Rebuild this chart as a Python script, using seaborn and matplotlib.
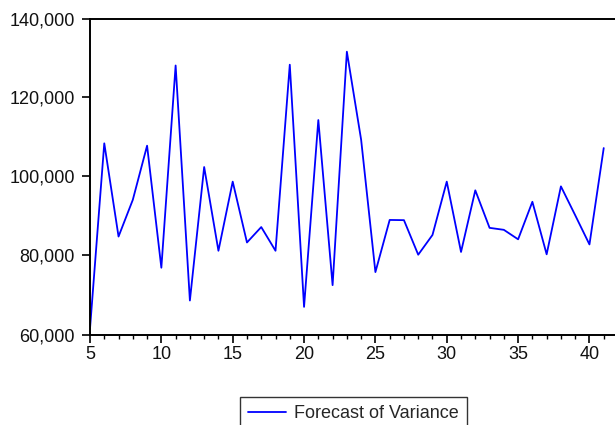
import matplotlib
matplotlib.use("Agg")
import matplotlib.pyplot as plt
from matplotlib.ticker import MultipleLocator, FuncFormatter
import seaborn as sns
import pandas as pd

# Forecast horizon (periods) and forecast of the variance
periods = list(range(5, 42))
variance = [
    61500, 108400, 84800, 94100, 107800, 76900, 128100, 68600, 102400, 81200,
    98700, 83300, 87200, 81200, 128300, 67000, 114300, 72500, 131600, 109300,
    75800, 89000, 88950, 80200, 85200, 98700, 80900, 96500, 87000, 86500,
    84100, 93600, 80300, 97500, 90200, 82800, 107200,
]
series_name = "Forecast of Variance"
y_ticks = [60000, 80000, 100000, 120000, 140000]

df = pd.DataFrame({"period": periods, "value": variance, "series": series_name})

sns.set_theme(style="white")
plt.rcParams["font.family"] = ["Liberation Sans", "DejaVu Sans"]

fig = plt.figure(figsize=(6.15, 4.25), dpi=100)
ax = fig.add_axes([90 / 615, 90.5 / 425, 528 / 615, 316 / 425])

sns.lineplot(data=df, x="period", y="value", hue="series",
             palette={series_name: "#0000ff"}, linewidth=1.3, ax=ax)

ax.set_xlim(5, 42)
ax.set_ylim(60000, 140000)
ax.set_yticks(y_ticks)
ax.yaxis.set_major_formatter(FuncFormatter(lambda v, p: f"{int(v):,}"))
ax.xaxis.set_major_locator(MultipleLocator(5))
ax.xaxis.set_minor_locator(MultipleLocator(1))
ax.set_xlabel("")
ax.set_ylabel("")

for side in ["left", "bottom", "top"]:
    ax.spines[side].set_visible(True)
    ax.spines[side].set_color("black")
    ax.spines[side].set_linewidth(1.4)
ax.spines["right"].set_visible(False)

ax.tick_params(axis="y", which="major", direction="out", length=6, width=1.2,
               color="black", left=True, labelsize=13, pad=5, labelcolor="#111111")
ax.tick_params(axis="x", which="major", direction="out", length=5.5, width=1.2,
               color="black", bottom=True, labelsize=13, pad=3, labelcolor="#111111")
ax.tick_params(axis="x", which="minor", direction="out", length=3, width=1.0,
               color="black", bottom=True)

leg = ax.legend(loc="upper center", bbox_to_anchor=(353.5 / 615, 28 / 425),
                bbox_transform=fig.transFigure, frameon=True, fancybox=False,
                fontsize=13, handlelength=2.1, handletextpad=0.45,
                borderpad=0.45, borderaxespad=0)
leg.get_frame().set_edgecolor("black")
leg.get_frame().set_linewidth(1.0)
for line in leg.get_lines():
    line.set_linewidth(1.3)

fig.savefig("out.png", dpi=100)
